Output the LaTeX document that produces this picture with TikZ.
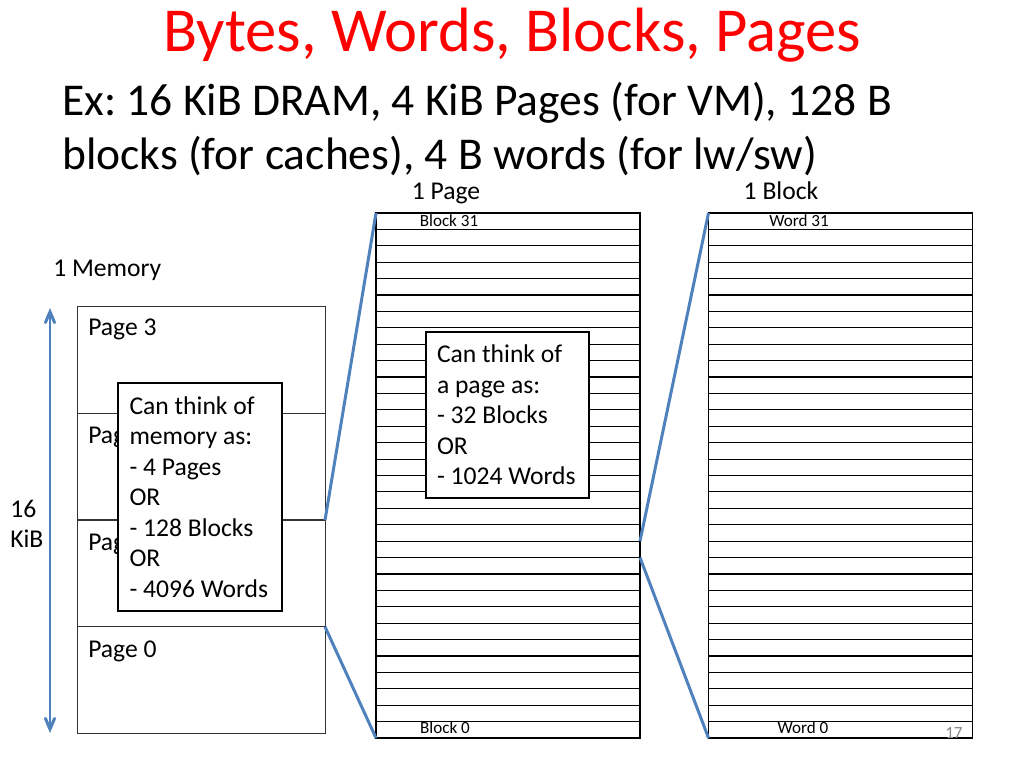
\documentclass[tikz,border=0pt]{standalone}
\usepackage{fontspec}
\setmainfont{Carlito}
\frenchspacing
\usetikzlibrary{arrows}
\newcommand{\pxu}{0.703125pt}
\definecolor{titlered}{RGB}{255,0,0}
\definecolor{linkblue}{RGB}{79,129,189}
\definecolor{numgray}{RGB}{137,137,137}
\tikzset{
  pagebox/.style={draw=black!80, line width=0.6pt, minimum width=248*\pxu, minimum height=106.5*\pxu, inner sep=0pt, outer sep=0pt},
  rowbox/.style={draw, line width=0.8pt, minimum width=264*\pxu, minimum height=16.40625*\pxu, inner sep=0pt, outer sep=0pt},
  callout/.style={draw, line width=1.8pt, fill=white, font=\fontsize{18}{21.45}\selectfont, align=flush left, text width=141*\pxu, inner xsep=11*\pxu},
  link/.style={linkblue, line width=2.1pt},
  biglab/.style={font=\fontsize{18}{21.6}\selectfont, inner sep=0pt},
  smalllab/.style={font=\fontsize{12}{14}\selectfont, inner sep=0pt}
}

\begin{document}
\begin{tikzpicture}[x=\pxu, y=-\pxu]
      \fill[white] (0,0) rectangle (1024,768);
      \useasboundingbox (0,0) rectangle (1024,768);
      % title and heading text
      \node[anchor=base, text=titlered, font=\fontsize{44}{52}\selectfont, inner sep=0pt] (title) at (512,52) {Bytes, Words, Blocks, Pages};
      \node[anchor=base west, font=\fontsize{32}{38}\selectfont, inner sep=0pt] (sub1) at (62,116) {Ex: 16 KiB DRAM, 4 KiB Pages (for VM), 128 B};
      \node[anchor=base west, font=\fontsize{32}{38}\selectfont, inner sep=0pt] (sub2) at (62,170) {blocks (for caches), 4 B words (for lw/sw)};
      \node[biglab, anchor=base] (pagehead) at (446,200) {1 Page};
      \node[biglab, anchor=base] (blockhead) at (781,200) {1 Block};
      \node[biglab, anchor=base west] (memhead) at (53,277) {1 Memory};
      \node[biglab, anchor=base west] (size1) at (10,517) {16};
      \node[biglab, anchor=base west] (size2) at (10,547) {KiB};
      % memory
      \node[pagebox] (pg3) at (201,360) {};
      \node[pagebox] (pg2) at (201,466.5) {};
      \node[pagebox] (pg1) at (201,573.5) {};
      \node[pagebox] (pg0) at (201,680) {};
      \node[biglab, anchor=base west] at (88,336) {Page 3};
      \node[biglab, anchor=base west] at (88,443) {Page 2};
      \node[biglab, anchor=base west] at (88,550) {Page 1};
      \node[biglab, anchor=base west] at (88,657) {Page 0};
      \coordinate (memtop) at (50,308);
      \coordinate (membot) at (50,733);
      \draw [link, angle 45-angle 45] (memtop) -- (membot);
      % one page, one block
      \foreach \i in {0,...,31} {
        \node[rowbox] (blk\i) at (508, {738-16.40625*(\i+0.5)}) {};
        \node[rowbox] (wrd\i) at (840.5, {738-16.40625*(\i+0.5)}) {};
      }
      \node[smalllab] at (449,221) {Block 31};
      \node[smalllab] at (445,728) {Block 0};
      \node[smalllab] at (799,221) {Word 31};
      \node[smalllab] at (803,728) {Word 0};
      \draw [link] (pg1.north east) -- (blk31.north west);
      \draw [link] (pg1.south east) -- (blk0.south west);
      \draw [link] (blk11.north east) -- (wrd31.north west);
      \draw [link] (blk11.south east) -- (wrd0.south west);
      % callouts
      \node[callout, minimum width=164*\pxu, minimum height=228*\pxu] (memnote) at (200,497) {Can think of\\memory as:\\- 4 Pages\\OR\\- 128 Blocks\\OR\\- 4096 Words};
      \node[callout, minimum width=163*\pxu, minimum height=166*\pxu] (pagenote) at (507.5,415) {Can think of\\a page as:\\- 32 Blocks\\OR\\- 1024 Words};
      \node[anchor=base west, text=numgray, font=\fontsize{12}{14}\selectfont, inner sep=0pt] (slideno) at (945,738) {17};
    \end{tikzpicture}
\end{document}
